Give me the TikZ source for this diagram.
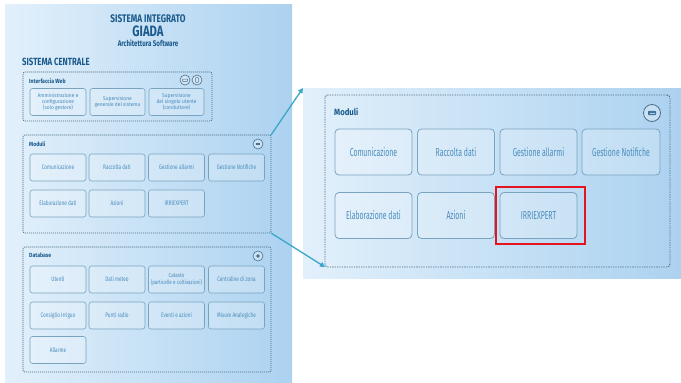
\documentclass[tikz,border=0pt]{standalone}
\usepackage{fontspec}
\setmainfont{Fira Sans}
\newfontfamily\condA{Fira Sans}[FakeStretch=0.6]
\newfontfamily\condB{Fira Sans}[FakeStretch=0.72]
\newfontfamily\condC{Fira Sans}[FakeStretch=0.9]
\newfontfamily\condD{Fira Sans}[FakeStretch=0.78]
\newfontfamily\headf{Fira Sans}[FakeStretch=0.86]
\newfontfamily\titlef{Fira Sans}[FakeStretch=0.75]
\usetikzlibrary{arrows.meta}
\definecolor{bgL}{HTML}{E2F0FB}
\definecolor{bgR}{HTML}{ACD2F0}
\definecolor{headc}{HTML}{1B5A8C}
\definecolor{txtc}{HTML}{4A8CBC}
\definecolor{boxc}{HTML}{7AA3BF}
\definecolor{dashc}{HTML}{4F6F86}
\definecolor{linkc}{HTML}{3BA6C8}
\tikzset{
  panel/.style={left color=bgL, right color=bgR, draw=none, inner sep=0pt, outer sep=0pt},
  grp/.style={draw=dashc, line width=0.7pt, dash pattern=on 1.1pt off 0.9pt, rounded corners=2pt, inner sep=0pt, outer sep=0pt},
  smod/.style={draw=boxc, line width=0.6pt, rounded corners=2.5pt, fill=white, fill opacity=0.22, text opacity=1, text=txtc, font=\condB\fontsize{6.5}{7}\selectfont, align=center, minimum width=56pt, minimum height=27pt, inner sep=0pt, outer sep=0pt},
  multi/.style={font=\condC\fontsize{5.4}{5.9}\selectfont},
  bmod/.style={draw=boxc, line width=0.8pt, rounded corners=4pt, fill=white, fill opacity=0.22, text opacity=1, text=txtc, font=\condA\fontsize{11.5}{13}\selectfont, align=center, minimum width=77pt, minimum height=46pt, inner sep=0pt, outer sep=0pt},
  glabel/.style={anchor=west, text=headc, font=\headf\fontsize{6}{7}\bfseries\selectfont, inner sep=0pt},
  icon/.style={circle, draw=dashc, line width=0.6pt, fill=white, fill opacity=0.3, minimum size=10pt, inner sep=0pt},
  link/.style={draw=linkc, line width=1.3pt, -{Triangle[length=5pt,width=5pt]}}
}
\begin{document}
\begin{tikzpicture}[x=1pt,y=-1pt]
\useasboundingbox (0,0) rectangle (681,383);
\fill[white] (0,0) rectangle (681,383);
% left panel
\node[panel, minimum width=287pt, minimum height=379pt] (lpanel) at (148.5,193.5) {};
\node[text=headc, font=\titlef\fontsize{11}{12}\bfseries\selectfont, inner sep=0pt] (t1) at (148,19) {SISTEMA INTEGRATO};
\node[text=headc, font=\titlef\fontsize{15}{16}\bfseries\selectfont, inner sep=0pt] (t2) at (148,31) {GIADA};
\node[text=headc, font=\titlef\fontsize{8.2}{9}\bfseries\selectfont, inner sep=0pt] (t3) at (148,43) {Architettura Software};
\node[anchor=west, text=headc, font=\titlef\fontsize{10.4}{11}\bfseries\selectfont, inner sep=0pt] (sc) at (22,62) {SISTEMA CENTRALE};

% Interfaccia Web
\node[grp, minimum width=189pt, minimum height=49pt] (web) at (117.5,96.5) {};
\node[glabel] (webl) at (29,81) {Interfaccia Web};
\node[icon] (wi1) at (185,80) {};
\draw[dashc, line width=0.5pt, rounded corners=0.5pt] (182.5,79) rectangle (187.5,81.5);
\node[icon] (wi2) at (197,80) {};
\draw[dashc, line width=0.5pt, rounded corners=0.5pt] (195.7,77.6) rectangle (198.3,82.4);
\node[smod, multi] (w1) at (58,102) {Amministrazione e\\configurazione\\(solo gestore)};
\node[smod, multi, minimum width=55pt] (w2) at (117.5,102) {Supervisione\\generale del sistema};
\node[smod, multi, minimum width=55pt] (w3) at (176.5,102) {Supervisione\\del singolo utente\\(conduttore)};

% Moduli (left)
\node[grp, minimum width=248pt, minimum height=98pt] (lmod) at (147,184) {};
\node[glabel] (lmodl) at (29,144) {Moduli};
\node[icon] (mi) at (258,144) {};
\fill[dashc] (256,143) rectangle (260,145.2);
\node[smod] (m1) at (58,167.5) {Comunicazione};
\node[smod] (m2) at (117,167.5) {Raccolta dati};
\node[smod] (m3) at (176.5,167.5) {Gestione allarmi};
\node[smod] (m4) at (236.5,167.5) {Gestione Notifiche};
\node[smod] (m5) at (58,203.5) {Elaborazione dati};
\node[smod] (m6) at (117,203.5) {Azioni};
\node[smod] (m7) at (176.5,203.5) {IRRIEXPERT};

% Database
\node[grp, minimum width=248pt, minimum height=125pt] (db) at (147,309.5) {};
\node[glabel] (dbl) at (29,255) {Database};
\node[icon] (di) at (258,256) {};
\fill[dashc] (258,256) circle (1.8pt);
\node[smod] (d1) at (58,279.5) {Utenti};
\node[smod] (d2) at (117,279.5) {Dati meteo};
\node[smod, font=\condD\fontsize{5.9}{6.4}\selectfont] (d3) at (176.5,279.5) {Catasto\\(particelle e coltivazioni)};
\node[smod] (d4) at (236.5,279.5) {Centraline di zona};
\node[smod] (d5) at (58,315.5) {Consiglio Irriguo};
\node[smod] (d6) at (117,315.5) {Punti radio};
\node[smod] (d7) at (176.5,315.5) {Eventi e azioni};
\node[smod] (d8) at (236.5,315.5) {Misure Analogiche};
\node[smod] (d9) at (58,350) {Allarme};

% right panel
\node[panel, minimum width=378pt, minimum height=190pt] (rpanel) at (492,183) {};
\node[grp, line width=0.9pt, dash pattern=on 1.3pt off 1.1pt, rounded corners=3pt, minimum width=345pt, minimum height=172pt] (rmod) at (497.5,181) {};
\node[anchor=west, text=headc, font=\headf\fontsize{9}{10}\bfseries\selectfont, inner sep=0pt] (rmodl) at (334,112) {Moduli};
\node[icon, minimum size=17pt, line width=0.8pt] (ri) at (652,113) {};
\fill[headc!85!white, rounded corners=0.8pt] (648,110.8) rectangle (656,115.2);
\draw[white!70!headc, line width=0.4pt] (649.5,113) -- (654.5,113);
\node[bmod] (r1) at (373.5,152) {Comunicazione};
\node[bmod] (r2) at (456,152) {Raccolta dati};
\node[bmod] (r3) at (538.5,152) {Gestione allarmi};
\node[bmod, minimum width=78pt] (r4) at (621,152) {Gestione Notifiche};
\node[bmod] (r5) at (373.5,215.5) {Elaborazione dati};
\node[bmod] (r6) at (456,215.5) {Azioni};
\node[bmod] (r7) at (538.5,215.5) {IRRIEXPERT};
\node[draw={rgb,255:red,230;green,20;blue,30}, line width=2pt, minimum width=89pt, minimum height=57pt, inner sep=0pt] (hl) at (540.5,215.5) {};

% connectors
\draw[link] (lmod.north east) -- (rpanel.north west);
\draw[link] (lmod.south east) -- (rmod.south west);
\end{tikzpicture}
\end{document}
